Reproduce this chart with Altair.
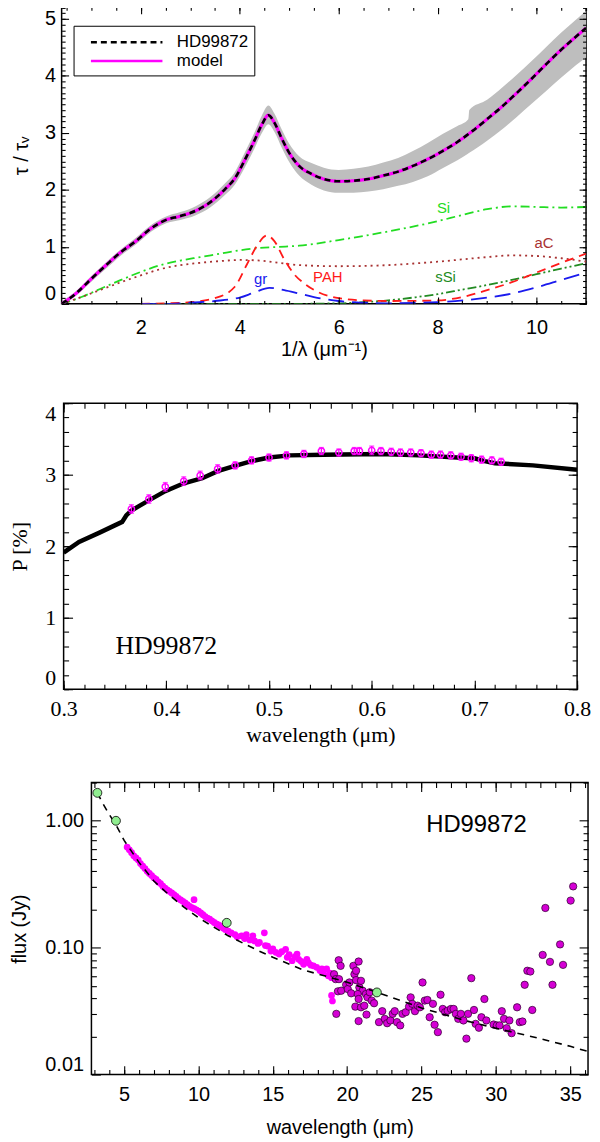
import altair as alt
import pandas as pd

SANS = "Liberation Sans"
SERIF = "Liberation Serif"

# ---------------- top panel: extinction curve, x = 1/lambda (um^-1) ----------------
inv_wl = [0.40, 0.70, 1.00, 1.30, 1.60, 1.90, 2.20, 2.50, 2.80, 3.10, 3.40, 3.70, 3.90, 4.10,
          4.30, 4.45, 4.58, 4.70, 4.85, 5.00, 5.20, 5.45, 5.70, 6.00, 6.30, 6.60, 6.90, 7.20,
          7.50, 7.80, 8.10, 8.40, 8.70, 9.00, 9.30, 9.60, 9.90, 10.20, 10.50, 10.80, 11.00]
tau_obs = [0.00, 0.19, 0.44, 0.68, 0.91, 1.10, 1.32, 1.47, 1.54, 1.63, 1.78, 2.01, 2.20, 2.52,
           2.87, 3.15, 3.31, 3.18, 2.90, 2.65, 2.42, 2.28, 2.19, 2.15, 2.16, 2.19, 2.25, 2.32,
           2.42, 2.54, 2.68, 2.84, 3.03, 3.24, 3.46, 3.70, 3.95, 4.21, 4.46, 4.69, 4.84]
tau_model = [0.00, 0.19, 0.44, 0.68, 0.91, 1.10, 1.32, 1.47, 1.54, 1.63, 1.78, 2.01, 2.20, 2.52,
             2.87, 3.15, 3.31, 3.18, 2.90, 2.65, 2.42, 2.28, 2.19, 2.15, 2.16, 2.19, 2.25, 2.32,
             2.42, 2.54, 2.68, 2.84, 3.03, 3.24, 3.46, 3.70, 3.95, 4.21, 4.46, 4.69, 4.84]

band_x = [0.40, 0.70, 1.00, 1.30, 1.60, 1.90, 2.20, 2.50, 2.80, 3.10, 3.40, 3.70, 3.90, 4.10,
          4.30, 4.45, 4.58, 4.70, 4.85, 5.00, 5.20, 5.45, 5.70, 6.00, 6.30, 6.60, 6.90, 7.20,
          7.50, 7.80, 8.10, 8.40, 8.62, 8.64, 9.00, 9.30, 9.60, 9.90, 10.20, 10.50, 10.80, 11.00]
band_lo = [-0.04, 0.15, 0.39, 0.62, 0.85, 1.04, 1.26, 1.41, 1.47, 1.55, 1.69, 1.91, 2.09, 2.39,
           2.73, 3.00, 3.15, 3.02, 2.74, 2.49, 2.25, 2.09, 1.99, 1.95, 1.95, 1.97, 2.01, 2.07,
           2.14, 2.24, 2.38, 2.52, 2.64, 2.65, 2.86, 3.06, 3.28, 3.51, 3.74, 3.97, 4.19, 4.32]
band_hi = [0.04, 0.23, 0.49, 0.73, 0.96, 1.16, 1.38, 1.53, 1.61, 1.71, 1.87, 2.11, 2.31, 2.65,
           3.01, 3.31, 3.48, 3.34, 3.06, 2.81, 2.59, 2.47, 2.39, 2.35, 2.37, 2.41, 2.48, 2.56,
           2.68, 2.82, 2.98, 3.12, 3.24, 3.40, 3.58, 3.79, 4.02, 4.26, 4.51, 4.76, 4.99, 5.14]

si_x = [0.4, 0.8, 1.2, 1.6, 2.0, 2.4, 2.8, 3.2, 3.6, 4.0, 4.4, 4.8, 5.2, 6.0, 7.0, 8.0, 8.5,
        9.0, 9.5, 10.0, 10.5, 11.0]
si_y = [0.00, 0.12, 0.27, 0.42, 0.56, 0.68, 0.76, 0.82, 0.88, 0.94, 0.98, 1.00, 1.02, 1.12,
        1.27, 1.45, 1.56, 1.66, 1.71, 1.70, 1.69, 1.70]
ac_x = [0.4, 0.8, 1.2, 1.6, 2.0, 2.4, 2.8, 3.2, 3.6, 4.0, 4.4, 4.8, 5.2, 6.0, 7.0, 8.0, 9.0,
        9.5, 10.0, 10.5, 11.0]
ac_y = [0.00, 0.12, 0.25, 0.38, 0.50, 0.61, 0.68, 0.72, 0.75, 0.77, 0.76, 0.72, 0.68, 0.66,
        0.68, 0.74, 0.82, 0.85, 0.84, 0.80, 0.74]
pah_x = [2.0, 2.5, 3.0, 3.5, 3.9, 4.15, 4.35, 4.55, 4.7, 4.9, 5.1, 5.3, 5.6, 6.0, 6.5, 7.0,
         8.0, 8.5, 9.0, 9.5, 10.0, 10.5, 11.0]
pah_y = [0.00, 0.01, 0.03, 0.10, 0.30, 0.70, 1.02, 1.20, 1.10, 0.78, 0.52, 0.36, 0.20, 0.10,
         0.06, 0.05, 0.06, 0.12, 0.24, 0.38, 0.55, 0.72, 0.88]
gr_x = [2.0, 2.5, 3.0, 3.5, 4.0, 4.3, 4.6, 4.9, 5.2, 5.5, 6.0, 6.5, 7.0, 8.0, 9.0, 9.5, 10.0,
        10.5, 11.0]
gr_y = [0.00, 0.00, 0.02, 0.05, 0.11, 0.20, 0.28, 0.24, 0.18, 0.12, 0.05, 0.02, 0.01, 0.03,
        0.11, 0.18, 0.29, 0.42, 0.55]
ssi_x = [2.0, 5.0, 6.0, 6.5, 7.0, 7.5, 8.0, 8.5, 9.0, 9.5, 10.0, 10.5, 11.0]
ssi_y = [0.00, 0.00, 0.01, 0.03, 0.06, 0.11, 0.17, 0.25, 0.33, 0.42, 0.52, 0.62, 0.71]

comp_names = ["Si", "aC", "sSi", "PAH", "gr"]
comp_label_x = [8.12, 10.15, 8.16, 5.78, 4.42]
comp_label_y = [1.68, 1.07, 0.47, 0.47, 0.44]
comp_colors = ["#22dd22", "#a83232", "#228b22", "#ff1a1a", "#1a1aee"]

# ---------------- middle panel: polarisation ----------------
pol_wl = [0.300, 0.315, 0.335, 0.357, 0.361, 0.366, 0.383, 0.399, 0.417, 0.435, 0.450, 0.466,
          0.483, 0.500, 0.520, 0.553, 0.609, 0.646, 0.683, 0.700, 0.710, 0.720, 0.757, 0.800]
pol_model = [1.91, 2.06, 2.19, 2.34, 2.43, 2.50, 2.64, 2.77, 2.88, 2.95, 3.05, 3.12,
             3.19, 3.24, 3.27, 3.28, 3.29, 3.27, 3.24, 3.23, 3.19, 3.16, 3.13, 3.07]
obs_wl = [0.366, 0.383, 0.399, 0.417, 0.433, 0.450, 0.467, 0.483, 0.500, 0.517, 0.534, 0.551,
          0.568, 0.583, 0.588, 0.600, 0.609, 0.619, 0.628, 0.638, 0.648, 0.658, 0.667, 0.677,
          0.687, 0.697, 0.707, 0.717, 0.726]
obs_p = [2.52, 2.66, 2.83, 2.91, 2.99, 3.08, 3.13, 3.20, 3.24, 3.27, 3.29, 3.33,
         3.31, 3.33, 3.33, 3.34, 3.33, 3.32, 3.31, 3.31, 3.30, 3.28, 3.28, 3.27,
         3.25, 3.23, 3.21, 3.20, 3.18]
obs_err = [0.06, 0.06, 0.06, 0.06, 0.06, 0.06, 0.05, 0.05, 0.05, 0.05, 0.05, 0.05,
           0.05, 0.05, 0.05, 0.06, 0.05, 0.05, 0.05, 0.05, 0.05, 0.05, 0.05, 0.05,
           0.05, 0.05, 0.05, 0.05, 0.05]

# ---------------- bottom panel: infrared SED ----------------
dense_wl = [5.20, 5.35, 5.50, 5.65, 5.80, 5.95, 6.10, 6.25, 6.40, 6.55,
            6.70, 6.85, 7.00, 7.15, 7.30, 7.45, 7.60, 7.75, 7.90, 8.05,
            8.20, 8.35, 8.50, 8.65, 8.80, 8.95, 9.10, 9.25, 9.40, 9.55,
            9.70, 9.70, 9.85, 10.00, 10.15, 10.30, 10.45, 10.60, 10.75, 10.90,
            11.05, 11.20, 11.35, 11.50, 11.65, 11.80, 12.00, 12.20, 12.45, 12.60,
            12.90, 13.10, 13.22, 13.45, 13.66, 13.77, 14.00, 14.10, 14.43, 14.50,
            14.65, 14.87, 15.00, 15.20, 15.42, 15.60, 15.86, 15.97, 16.10, 16.30,
            16.50, 16.63, 16.74, 16.90, 17.07, 17.29, 17.40, 17.55, 17.73, 17.95,
            18.17, 18.30, 18.40, 18.62, 18.73, 18.85, 18.95, 18.95, 19.01]
dense_flux = [0.62, 0.59, 0.56, 0.53, 0.51, 0.49, 0.46, 0.44, 0.42, 0.40,
              0.385, 0.37, 0.355, 0.345, 0.33, 0.32, 0.305, 0.295, 0.285, 0.278,
              0.27, 0.262, 0.254, 0.245, 0.238, 0.232, 0.225, 0.218, 0.212, 0.207,
              0.239, 0.203, 0.199, 0.194, 0.188, 0.182, 0.176, 0.171, 0.168, 0.163,
              0.158, 0.154, 0.151, 0.147, 0.143, 0.139, 0.135, 0.131, 0.127, 0.122,
              0.124, 0.118, 0.127, 0.115, 0.124, 0.113, 0.108, 0.110, 0.131, 0.104,
              0.103, 0.094, 0.098, 0.092, 0.089, 0.093, 0.097, 0.084, 0.088, 0.079,
              0.085, 0.089, 0.081, 0.078, 0.074, 0.081, 0.076, 0.073, 0.072, 0.070,
              0.066, 0.068, 0.064, 0.068, 0.060, 0.063, 0.058, 0.042, 0.038]

ll_wl = [19.43, 19.56, 19.12, 19.23, 19.45, 19.38, 19.60, 19.93, 20.04, 20.15,
         20.27, 20.42, 20.49, 20.60, 20.77, 20.60, 20.82, 20.93, 21.04, 20.71,
         20.55, 20.77, 20.93, 21.15, 21.26, 21.37, 21.52, 21.65, 21.81, 21.30,
         20.77, 19.27, 22.14, 22.36, 22.53, 22.69, 22.91, 23.06, 23.20, 23.35,
         23.57, 23.72, 23.94, 24.16, 24.27, 24.38, 24.56, 24.74, 24.89, 25.07,
         25.22, 25.40, 25.55, 25.77, 25.88, 26.10, 26.28, 26.43, 26.59, 26.76,
         26.98, 27.16, 27.31, 27.47, 27.65, 27.82, 28.02, 28.13, 28.35, 28.53,
         28.64, 28.86, 29.03, 29.23, 29.36, 29.85, 30.07, 30.25, 30.40, 30.55,
         30.73, 30.91, 31.06, 31.43, 31.61, 31.79, 31.94, 32.12, 32.32, 32.45,
         33.15, 33.33, 33.64, 33.81, 34.32, 34.52, 35.03, 35.20]
ll_flux = [0.0796, 0.0719, 0.0618, 0.0565, 0.0565, 0.0453, 0.0458, 0.0510, 0.0472, 0.0532,
           0.0437, 0.0719, 0.0618, 0.0658, 0.0778, 0.0555, 0.0486, 0.0548, 0.0458, 0.0431,
           0.0343, 0.0394, 0.0339, 0.0349, 0.0431, 0.0406, 0.0445, 0.0383, 0.0365, 0.0297,
           0.0264, 0.0301, 0.0259, 0.0316, 0.0275, 0.0254, 0.0267, 0.0301, 0.0316, 0.0259,
           0.0244, 0.0301, 0.0310, 0.0343, 0.0406, 0.0361, 0.0316, 0.0349, 0.0339, 0.0532,
           0.0383, 0.0387, 0.0283, 0.0361, 0.0247, 0.0216, 0.0426, 0.0329, 0.0310, 0.0319,
           0.0329, 0.0329, 0.0301, 0.0275, 0.0301, 0.0267, 0.0192, 0.0301, 0.0575, 0.0323,
           0.0251, 0.0234, 0.0283, 0.0394, 0.0267, 0.0248, 0.0244, 0.0244, 0.0316, 0.0275,
           0.0232, 0.0267, 0.0212, 0.0339, 0.0259, 0.0262, 0.0510, 0.0658, 0.0649, 0.0323,
           0.0877, 0.2056, 0.0773, 0.0510, 0.1061, 0.0732, 0.235, 0.304]

sed_wl = [3.2, 3.6, 4.0, 4.45, 5.0, 6.0, 7.0, 8.0, 9.0, 10.0, 12.0, 14.0, 15.0, 17.0, 20.0,
          22.0, 25.0, 28.0, 30.0, 33.0, 35.0, 36.2]
sed_flux = [1.66, 1.35, 1.12, 0.93, 0.70, 0.47, 0.335, 0.262, 0.21, 0.172, 0.124, 0.095,
            0.084, 0.067, 0.0535, 0.0445, 0.0335, 0.0265, 0.0232, 0.0192, 0.0167, 0.0152]

phot_wl = [3.2, 4.45, 11.9, 22.0]
phot_flux = [1.66, 1.00, 0.157, 0.0444]


def axis(orient, values, tick, shift=None, labels=False, font=SANS, size=20, pad=6, fmt=None,
         flush=False, title=None, tpos=0):
    # ticks point inwards: left/bottom axes are pushed into the plot by their tick length,
    # the top/right edges use an opposite-facing axis moved across the whole plot
    opts = dict(orient=orient, values=values, tickSize=tick,
                offset=-tick if shift is None else -shift, domain=False, grid=False,
                tickColor="black", tickWidth=1.1, labels=labels, zindex=2, title=title)
    if labels:
        opts.update(labelFont=font, labelFontSize=size, labelColor="black",
                    labelPadding=pad, labelFlush=flush, labelOverlap=False)
        if fmt:
            opts["format"] = fmt
    if title:
        opts.update(titleFont=font, titleFontSize=size, titleFontWeight="normal",
                    titleColor="black", titleBaseline="middle")
        if orient == "left":
            opts.update(titleAngle=-90, titleX=tpos - tick)
        else:
            opts.update(titleAngle=0, titleY=tpos + tick)
    return alt.Axis(**opts)


def boxed(layers, carrier, xf, yf, sx, sy, w, h, xmaj, xmin, ymaj, ymin, tmaj, tmin,
          xlab, ylab):
    base = alt.Chart(carrier).mark_point(opacity=0)

    def enc(xa, ya):
        return base.encode(x=alt.X(xf, scale=sx, axis=xa), y=alt.Y(yf, scale=sy, axis=ya))

    frame = [
        enc(axis("bottom", xmaj, tmaj, **xlab), axis("left", ymaj, tmaj, **ylab)),
        enc(axis("bottom", xmin, tmin), axis("left", ymin, tmin)),
        enc(axis("bottom", xmaj, tmaj, shift=h), axis("left", ymaj, tmaj, shift=w)),
        enc(axis("bottom", xmin, tmin, shift=h), axis("left", ymin, tmin, shift=w)),
    ]
    return (
        alt.layer(*layers, *frame)
        .resolve_axis(x="independent", y="independent")
        .properties(width=w, height=h)
    )


def spacer(w):
    return (
        alt.Chart(pd.DataFrame({"s": [0]}))
        .mark_point(opacity=0)
        .encode(x=alt.X("s:Q", axis=None), y=alt.Y("s:Q", axis=None))
        .properties(width=w, height=10, view=alt.ViewBackground(strokeOpacity=0))
    )


# ---------------- top ----------------
sx1 = alt.Scale(domain=[0.4, 11.0], nice=False, zero=False)
sy1 = alt.Scale(domain=[0.0, 5.21], nice=False, zero=False)
obs_df = pd.DataFrame({"x": inv_wl, "tau": tau_obs, "series": "HD99872"})
mod_df = pd.DataFrame({"x": inv_wl, "tau": tau_model, "series": "model"})
band_df = pd.DataFrame({"x": band_x, "lo": band_lo, "hi": band_hi})

series_color = alt.Scale(domain=["HD99872", "model"], range=["black", "#ff00ff"])
series_dash = alt.Scale(domain=["HD99872", "model"], range=[[6, 4], [1, 0]])
leg = alt.Legend(title=None, orient="none", legendX=12, legendY=19, strokeColor="black",
                 fillColor="white", padding=6, symbolType="M-4,0H4", symbolSize=324,
                 symbolStrokeWidth=2.5, symbolOffset=37, labelOffset=40, labelFont=SANS,
                 labelFontSize=17, labelColor="black", rowPadding=0)

top_layers = [
    alt.Chart(band_df).mark_area(color="#bebebe", interpolate="monotone", clip=True).encode(
        x=alt.X("x:Q", scale=sx1, axis=None),
        y=alt.Y("lo:Q", scale=sy1, axis=None),
        y2="hi:Q",
    )
]
comps = [
    (si_x, si_y, comp_colors[0], [9, 4, 2, 4]),
    (ac_x, ac_y, comp_colors[1], [2, 4]),
    (ssi_x, ssi_y, comp_colors[2], [9, 3, 2, 3, 2, 3]),
    (pah_x, pah_y, comp_colors[3], [9, 6]),
    (gr_x, gr_y, comp_colors[4], [16, 8]),
]
for cx, cy, col, dash in comps:
    top_layers.append(
        alt.Chart(pd.DataFrame({"x": cx, "y": cy}))
        .mark_line(color=col, strokeDash=dash, strokeWidth=1.8, interpolate="monotone", clip=True)
        .encode(x=alt.X("x:Q", scale=sx1, axis=None), y=alt.Y("y:Q", scale=sy1, axis=None))
    )
for df, lw in [(mod_df, 3.2), (obs_df, 2.6)]:
    top_layers.append(
        alt.Chart(df)
        .mark_line(strokeWidth=lw, interpolate="monotone", clip=True)
        .encode(
            x=alt.X("x:Q", scale=sx1, axis=None),
            y=alt.Y("tau:Q", scale=sy1, axis=None),
            color=alt.Color("series:N", scale=series_color, legend=leg),
            strokeDash=alt.StrokeDash("series:N", scale=series_dash, legend=leg),
        )
    )
lab_df = pd.DataFrame({"name": comp_names, "x": comp_label_x, "y": comp_label_y,
                       "c": comp_colors})
top_layers.append(
    alt.Chart(lab_df).mark_text(font=SANS, fontSize=15, baseline="middle", align="center")
    .encode(x=alt.X("x:Q", scale=sx1, axis=None), y=alt.Y("y:Q", scale=sy1, axis=None),
            text="name:N", color=alt.Color("c:N", scale=None))
)
top = boxed(
    top_layers, obs_df, "x:Q", "tau:Q", sx1, sy1, 528, 299,
    [2, 4, 6, 8, 10], [i * 0.5 for i in range(1, 23)],
    [0, 1, 2, 3, 4, 5], [i / 10 for i in range(0, 53)], 7, 3.5,
    dict(labels=True, size=20, pad=14, title="1/λ (μm⁻¹)", tpos=46),
    dict(labels=True, size=20, pad=6, flush=True, title="τ / τᵥ", tpos=-40),
)

# ---------------- middle ----------------
sx2 = alt.Scale(domain=[0.3, 0.8], nice=False, zero=False)
sy2 = alt.Scale(domain=[0.0, 4.0], nice=False, zero=False)
pol_df = pd.DataFrame({"x": pol_wl, "p": pol_model})
obs2 = pd.DataFrame({"x": obs_wl, "p": obs_p, "e": obs_err})
obs2["lo"] = obs2["p"] - obs2["e"]
obs2["hi"] = obs2["p"] + obs2["e"]
X2 = alt.X("x:Q", scale=sx2, axis=None)
mid_layers = [
    alt.Chart(pol_df).mark_line(color="black", strokeWidth=4.5, clip=True)
    .encode(x=X2, y=alt.Y("p:Q", scale=sy2, axis=None)),
    alt.Chart(obs2).mark_rule(color="#ff00ff", strokeWidth=1.3)
    .encode(x=X2, y=alt.Y("lo:Q", scale=sy2, axis=None), y2="hi:Q"),
    alt.Chart(obs2).mark_tick(color="#ff00ff", thickness=1.3, size=5, orient="horizontal")
    .encode(x=X2, y=alt.Y("lo:Q", scale=sy2, axis=None)),
    alt.Chart(obs2).mark_tick(color="#ff00ff", thickness=1.3, size=5, orient="horizontal")
    .encode(x=X2, y=alt.Y("hi:Q", scale=sy2, axis=None)),
    alt.Chart(obs2).mark_point(shape="circle", filled=False, color="#ff00ff", size=40,
                               strokeWidth=1.5, opacity=1)
    .encode(x=X2, y=alt.Y("p:Q", scale=sy2, axis=None)),
    alt.Chart(pd.DataFrame({"x": [0.40], "y": [0.61], "t": ["HD99872"]}))
    .mark_text(font=SERIF, fontSize=26, align="center", baseline="middle", color="black")
    .encode(x=X2, y=alt.Y("y:Q", scale=sy2, axis=None), text="t:N"),
]
mid = boxed(
    mid_layers, pol_df, "x:Q", "p:Q", sx2, sy2, 517, 288,
    [0.3, 0.4, 0.5, 0.6, 0.7, 0.8], [0.3 + i * 0.02 for i in range(0, 26)],
    [0, 1, 2, 3, 4], [i / 5 for i in range(0, 21)], 9, 5,
    dict(labels=True, font=SERIF, size=22, pad=9, title="wavelength (μm)", tpos=46),
    dict(labels=True, font=SERIF, size=22, pad=8, flush=True, title="P [%]", tpos=-44),
)

# ---------------- bottom ----------------
sx3 = alt.Scale(domain=[2.8, 36.2], nice=False, zero=False)
sy3 = alt.Scale(type="log", domain=[0.01, 2.0], nice=False)
dense_df = pd.DataFrame({"x": dense_wl, "f": dense_flux})
X3 = alt.X("x:Q", scale=sx3, axis=None)
Y3 = alt.Y("f:Q", scale=sy3, axis=None)
minor_log = [0.02, 0.03, 0.04, 0.05, 0.06, 0.07, 0.08, 0.09,
             0.2, 0.3, 0.4, 0.5, 0.6, 0.7, 0.8, 0.9, 2.0]
bot_layers = [
    alt.Chart(dense_df).mark_circle(color="#ff00ff", size=46, opacity=1, clip=True)
    .encode(x=X3, y=Y3),
    alt.Chart(pd.DataFrame({"x": ll_wl, "f": ll_flux}))
    .mark_circle(fill="#d400d4", stroke="#2a002a", strokeWidth=0.7, size=55, opacity=1,
                 clip=True)
    .encode(x=X3, y=Y3),
    alt.Chart(pd.DataFrame({"x": sed_wl, "f": sed_flux}))
    .mark_line(color="black", strokeDash=[7, 6], strokeWidth=1.6, clip=True)
    .encode(x=X3, y=Y3),
    alt.Chart(pd.DataFrame({"x": phot_wl, "f": phot_flux}))
    .mark_circle(fill="#90ee90", stroke="black", strokeWidth=0.8, size=80, opacity=1,
                 clip=True)
    .encode(x=X3, y=Y3),
    alt.Chart(pd.DataFrame({"x": [28.7], "f": [0.93], "t": ["HD99872"]}))
    .mark_text(font=SANS, fontSize=24, align="center", baseline="middle", color="black")
    .encode(x=X3, y=Y3, text="t:N"),
]
bot = boxed(
    bot_layers, dense_df, "x:Q", "f:Q", sx3, sy3, 500, 294,
    [5, 10, 15, 20, 25, 30, 35], list(range(3, 37)),
    [0.01, 0.1, 1.0], minor_log, 9, 5,
    dict(labels=True, size=20, pad=10, title="wavelength (μm)", tpos=53),
    dict(labels=True, size=20, pad=8, flush=True, fmt=".2f", title="flux (Jy)", tpos=-72),
)

row2 = alt.hconcat(spacer(1), mid, spacing=1, bounds="flush")
row3 = alt.hconcat(spacer(1), bot, spacing=29, bounds="flush")
chart = (
    alt.vconcat(top, alt.vconcat(row2, row3, spacing=34), spacing=41)
    .configure_view(stroke="black", strokeWidth=1.5)
    .properties(padding={"left": 0, "top": -7, "right": 0, "bottom": 0})
)

chart.save("out.html", embed_options={"renderer": "svg", "actions": False})
